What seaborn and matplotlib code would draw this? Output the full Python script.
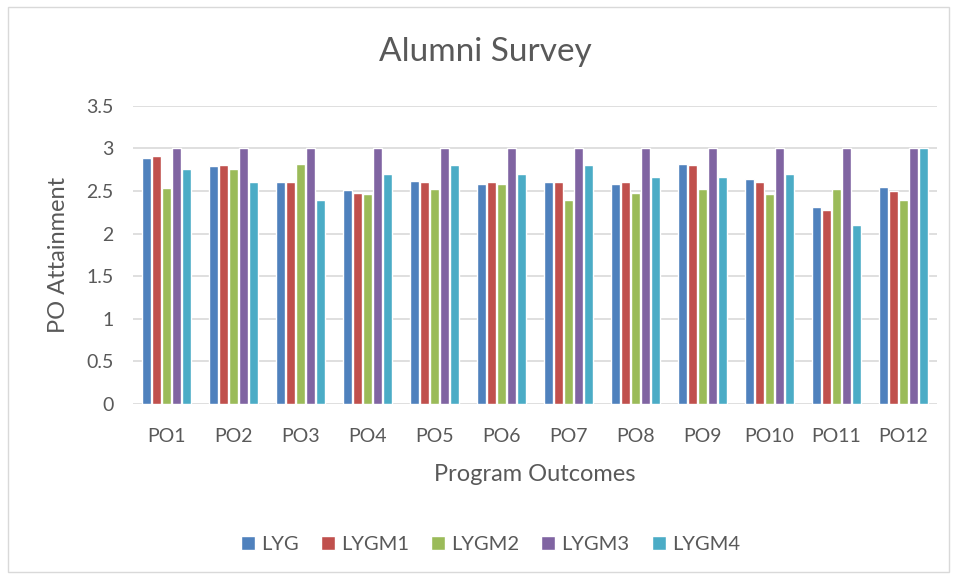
import matplotlib
matplotlib.use('Agg')
import matplotlib.pyplot as plt
import numpy as np
import pandas as pd
import seaborn as sns
from matplotlib.patches import Rectangle, Patch

# Data
outcomes = ['PO1', 'PO2', 'PO3', 'PO4', 'PO5', 'PO6', 'PO7', 'PO8', 'PO9', 'PO10', 'PO11', 'PO12']
LYG   = [2.89, 2.79, 2.61, 2.51, 2.62, 2.58, 2.60, 2.58, 2.82, 2.64, 2.31, 2.55]
LYGM1 = [2.91, 2.80, 2.60, 2.48, 2.60, 2.60, 2.60, 2.60, 2.80, 2.60, 2.28, 2.50]
LYGM2 = [2.54, 2.76, 2.82, 2.46, 2.52, 2.58, 2.40, 2.48, 2.52, 2.46, 2.52, 2.40]
LYGM3 = [3.0, 3.0, 3.0, 3.0, 3.0, 3.0, 3.0, 3.0, 3.0, 3.0, 3.0, 3.0]
LYGM4 = [2.76, 2.60, 2.40, 2.70, 2.80, 2.70, 2.80, 2.66, 2.66, 2.70, 2.10, 3.0]

series = {'LYG': LYG, 'LYGM1': LYGM1, 'LYGM2': LYGM2, 'LYGM3': LYGM3, 'LYGM4': LYGM4}
COLORS = ['#4F81BD', '#C0504D', '#9BBB59', '#8064A2', '#4BACC6']
TXT = '#595959'

rows = []
for name, vals in series.items():
    for po, v in zip(outcomes, vals):
        rows.append({'PO': po, 'Series': name, 'Value': v})
df = pd.DataFrame(rows)

sns.set_style('white')
plt.rcParams['font.family'] = ['Lato', 'DejaVu Sans']

fig = plt.figure(figsize=(9.56, 5.78), dpi=100)
ax = fig.add_axes([0.139, 0.301, 0.841, 0.516])

palette = dict(zip(series.keys(), COLORS))
sns.barplot(data=df, x='PO', y='Value', hue='Series', palette=palette,
            order=outcomes, hue_order=list(series.keys()),
            width=0.75, gap=0.15, saturation=1, ax=ax, legend=False)

ax.set_ylim(0, 3.5)
ax.set_yticks(np.arange(0, 3.51, 0.5))
ax.set_yticklabels(['0', '0.5', '1', '1.5', '2', '2.5', '3', '3.5'])
ax.set_xlim(-0.5, len(outcomes) - 0.5)
ax.yaxis.grid(True, color='#d9d9d9', linewidth=1.2)
ax.set_axisbelow(True)
for s in ax.spines.values():
    s.set_visible(False)
ax.tick_params(axis='both', length=0, labelsize=14, colors=TXT)
ax.tick_params(axis='x', pad=17)
ax.tick_params(axis='y', pad=14)
ax.set_xlabel('Program Outcomes', fontsize=17, color=TXT, labelpad=14)
ax.set_ylabel('PO Attainment', fontsize=17, color=TXT, labelpad=12)

fig.text(0.508, 0.91, 'Alumni Survey', ha='center', va='center', fontsize=24, color=TXT)

handles = [Patch(facecolor=c, label=n) for n, c in zip(series.keys(), COLORS)]
fig.legend(handles=handles, loc='center', bbox_to_anchor=(0.513, 0.058), ncol=5,
           frameon=False, fontsize=14.5, handlelength=0.7, handleheight=0.7,
           columnspacing=1.1, handletextpad=0.3, labelcolor=TXT)

fig.patches.append(Rectangle((0.008, 0.01), 0.985, 0.978, transform=fig.transFigure,
                             fill=False, edgecolor='#d9d9d9', linewidth=1))

fig.savefig('out.png', dpi=100)
